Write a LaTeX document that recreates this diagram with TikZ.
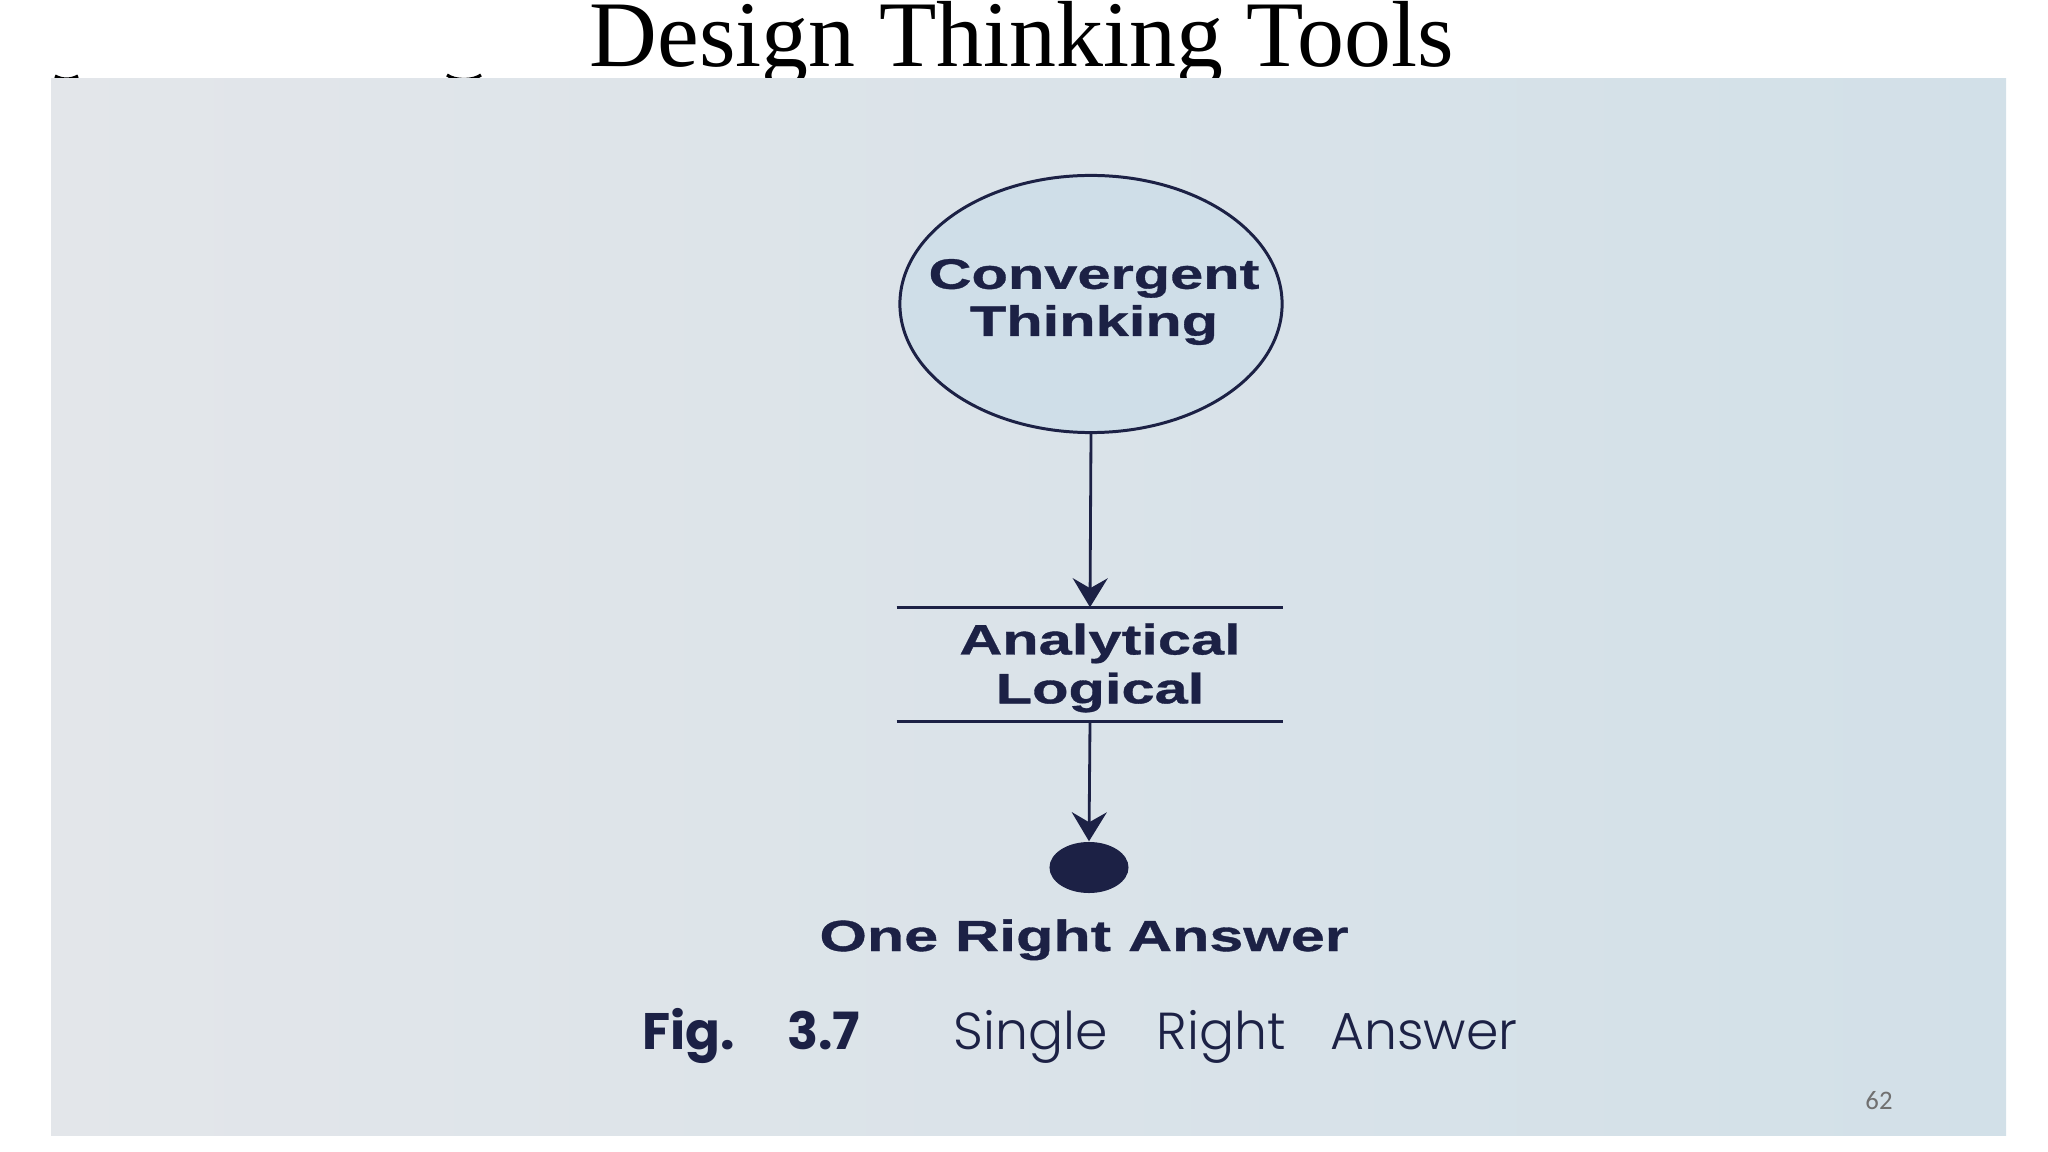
\documentclass[tikz,border=0pt]{standalone}
\usepackage{fontspec}
\usetikzlibrary{shapes.geometric,arrows.meta}
\setmainfont{Liberation Serif}
\newfontfamily\diagfont{Liberation Sans Bold}[FakeStretch=1.4, FakeBold=0.8]
\newfontfamily\capfont{Poppins}
\IfFontExistsTF{Poppins Light}{\newfontfamily\caplightfont{Poppins Light}}{\newfontfamily\caplightfont{Poppins}}
\newfontfamily\numfont{Carlito}
\definecolor{navy}{HTML}{1C2145}
\definecolor{photoL}{HTML}{E3E6EA}
\definecolor{photoR}{HTML}{D2E0E8}
\definecolor{ellfill}{HTML}{CFDEE8}
\definecolor{pgnum}{HTML}{707070}
\tikzset{
  conn/.style={draw=navy, line width=0.8pt, -{Stealth[length=0.29cm, width=0.35cm, inset=0.1cm]}},
  ellnode/.style={ellipse, draw=navy, line width=0.85pt, fill=ellfill, minimum width=3.82cm, minimum height=2.57cm, inner sep=0pt},
  boxnode/.style={rectangle, minimum width=3.85cm, minimum height=1.13cm, inner sep=0pt},
  sepline/.style={draw=navy, line width=0.8pt},
  lbl/.style={align=center, text=navy, inner sep=0pt, font=\diagfont\fontsize{12.1}{13.9}\selectfont},
  dotnode/.style={ellipse, fill=navy, minimum width=0.79cm, minimum height=0.51cm, inner sep=0pt},
  capbold/.style={anchor=base, text=navy, inner sep=0pt, font=\capfont\bfseries\fontsize{14.6}{16}\selectfont},
  caplight/.style={anchor=base, text=navy, inner sep=0pt, font=\caplightfont\fontsize{14.8}{16}\selectfont},
}
\begin{document}
\begin{tikzpicture}[x=0.01cm, y=-0.01cm]
\useasboundingbox (0,0) rectangle (2048,1152);
\fill[white] (0,0) rectangle (2048,1152);
% title
\node[anchor=base, inner sep=0pt, font=\fontsize{26.7}{30}\selectfont] (title) at (1022,67) {Design Thinking Tools};
% small descender marks above the photo
\draw[line width=0.9pt, black] (55,76) .. controls (62,80) and (71,80) .. (78,76);
\draw[line width=0.9pt, black] (447,75) .. controls (455,81) and (473,81) .. (481,75);
% photo
\fill[left color=photoL, right color=photoR] (51,79) rectangle (2006,1135);
% diagram
\node[ellnode] (conv) at (1091,304) {};
\node[lbl, font=\diagfont\fontsize{12.1}{13.4}\selectfont] (convtext) at (1094,302) {Convergent\\Thinking};
\node[boxnode] (ana) at (1090,664.5) {};
\draw[sepline] (ana.north west) -- (ana.north east);
\draw[sepline] (ana.south west) -- (ana.south east);
\node[lbl] (anatext) at (1100,668) {Analytical\\Logical};
\node[dotnode] (dot) at (1089,867.5) {};
\draw[conn] (conv.south) -- (ana.north);
\draw[conn] (ana.south) -- (dot.north);
\node[anchor=base, text=navy, inner sep=0pt, font=\diagfont\fontsize{12.4}{14}\selectfont] (ans) at (1084,951) {One Right Answer};
% caption
\node[capbold] (fig) at (688.5,1049) {Fig.};
\node[capbold] (num) at (823.5,1049) {3.7};
\node[caplight] (w1) at (1030.5,1049) {Single};
\node[caplight] (w2) at (1221.5,1049) {Right};
\node[caplight] (w3) at (1424,1049) {Answer};
% page number
\node[text=pgnum, inner sep=0pt, font=\numfont\fontsize{7.6}{9}\selectfont] (pg) at (1879,1101) {62};
\end{tikzpicture}
\end{document}
